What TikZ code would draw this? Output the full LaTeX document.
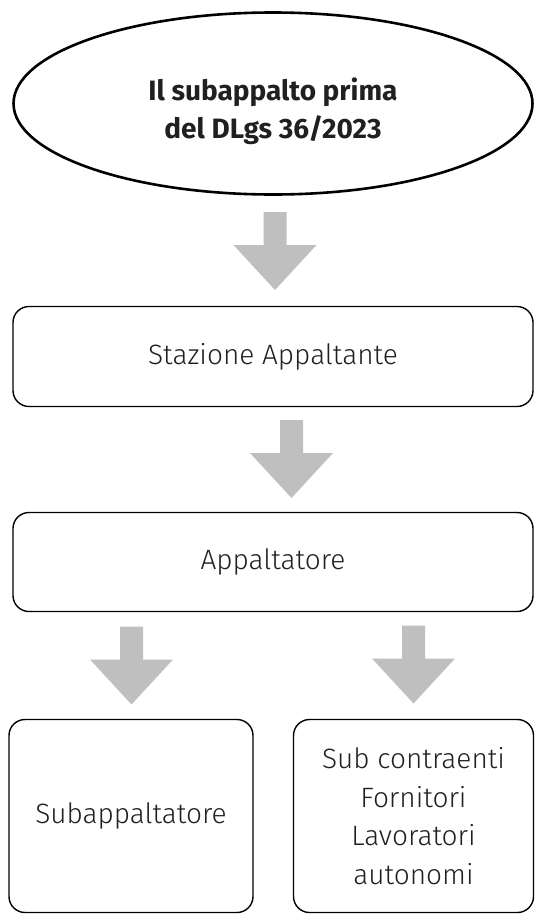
\documentclass[tikz,border=0pt]{standalone}
\usepackage{fontspec}
\setmainfont{Fira Sans}
\newfontfamily\lightfont{Fira Sans Light}
\usetikzlibrary{shapes.geometric}
\definecolor{arrowgray}{HTML}{BFBFBF}
\definecolor{txt}{HTML}{202020}
\tikzset{
  titleshape/.style={ellipse, draw=black, line width=2.6pt, minimum width=519pt, minimum height=182pt, inner sep=0pt},
  titletext/.style={inner sep=0pt, align=center, text=txt, font=\fontsize{28}{38}\selectfont\bfseries},
  boxshape/.style={draw=black, line width=1.4pt, rounded corners=16pt, inner sep=0pt, align=center, text=txt, font=\lightfont\fontsize{28}{38.5}\selectfont},
  downarrow/.pic={\fill[arrowgray] (-11.5,0) -- (11.5,0) -- (11.5,33) -- (41.5,33) -- (0,78) -- (-41.5,33) -- (-11.5,33) -- cycle;}
}
\begin{document}
\begin{tikzpicture}[x=1pt,y=-1pt]
\useasboundingbox (0,0) rectangle (535,916);
\node[titleshape] (title) at (273,103.5) {};
\node[titletext] (titlelabel) at ([yshift=-8pt]title.center) {Il subappalto prima\\del DLgs 36/2023};
\node[boxshape, minimum width=520pt, minimum height=100pt] (stazione) at (273,356.5) {Stazione Appaltante};
\node[boxshape, minimum width=520pt, minimum height=99pt] (appaltatore) at (273,562) {Appaltatore};
\node[boxshape, minimum width=244pt, minimum height=193pt] (sub) at (131,816) {Subappaltatore};
\node[boxshape, minimum width=240pt, minimum height=193pt] (altri) at (413.5,816) {Sub contraenti\\Fornitori\\Lavoratori\\autonomi};
\pic (a1) at (275,212) {downarrow};
\pic (a2) at (291.5,420) {downarrow};
\pic (a3) at (131.5,626.5) {downarrow};
\pic (a4) at (413.5,625.5) {downarrow};
\end{tikzpicture}
\end{document}
